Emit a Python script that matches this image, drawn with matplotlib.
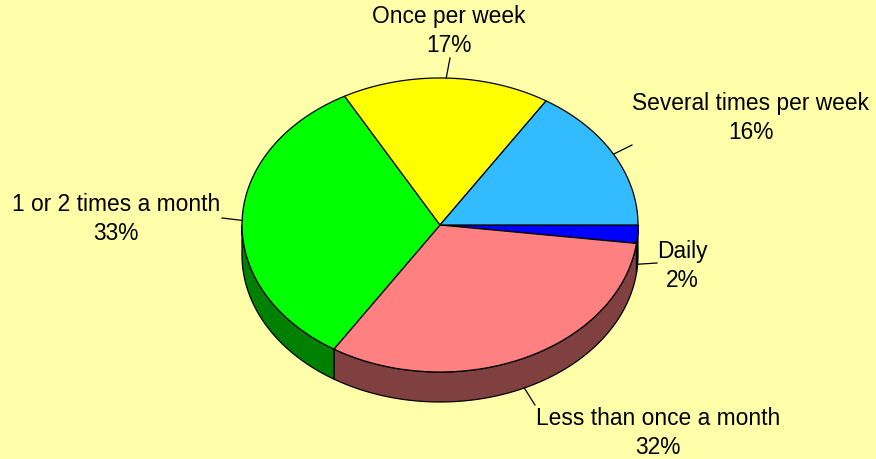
import numpy as np
import matplotlib.pyplot as plt
from matplotlib.patches import Polygon

# données du graphique (ordre horaire à partir de 0°)
categories = ["Daily", "Less than once a month", "1 or 2 times a month",
              "Once per week", "Several times per week"]
values = [2, 32, 33, 17, 16]

top_colors = ["#0000FF", "#FF8080", "#00FF00", "#FFFF00", "#33BBFF"]
side_colors = ["#000080", "#804040", "#008000", "#808000", "#1A5E80"]

# position des étiquettes (centre du texte) et fin du trait de rappel, en pixels
label_pos = [(682, 266), (658, 433), (449, 31), (751, 118)]
label_pos.insert(2, (116, 219))
leader_end = [(657, 263), (535, 405), (222, 218), (450, 58), (632, 145)]

W, H = 876, 459
cx, cy = 440, 225
rx, ry = 198, 147
depth = 30

fig = plt.figure(figsize=(W / 100, H / 100), dpi=100)
fig.patch.set_facecolor("#FFFFAA")
ax = fig.add_axes([0, 0, 1, 1])
ax.set_xlim(0, W)
ax.set_ylim(H, 0)
ax.axis("off")


def pt(theta, dz=0):
    t = np.radians(theta)
    return cx + rx * np.cos(t), cy - ry * np.sin(t) + dz


# angles des tranches (sens horaire, départ à 0°)
fracs = np.array(values, dtype=float) / np.sum(values)
ends = -360 * np.cumsum(fracs)
starts = np.concatenate([[0], ends[:-1]])

# faces latérales (moitié avant seulement)
for a0, a1, col in zip(starts, ends, side_colors):
    lo_c, hi_c = max(a1, -180), min(a0, 0)
    if lo_c >= hi_c:
        continue
    th = np.linspace(hi_c, lo_c, 60)
    top = np.array([pt(t) for t in th])
    bot = np.array([pt(t, depth) for t in th[::-1]])
    ax.add_patch(Polygon(np.vstack([top, bot]), closed=True, facecolor=col,
                         edgecolor="black", linewidth=0.9, zorder=1))

# faces du dessus
for a0, a1, col in zip(starts, ends, top_colors):
    th = np.linspace(a0, a1, 120)
    arc = np.array([pt(t) for t in th])
    poly = np.vstack([[cx, cy], arc])
    ax.add_patch(Polygon(poly, closed=True, facecolor=col,
                         edgecolor="black", linewidth=0.9, zorder=2))

# étiquettes et traits de rappel
for a0, a1, name, v, lp, le in zip(starts, ends, categories, values,
                                    label_pos, leader_end):
    mid = (a0 + a1) / 2
    dz = depth if np.sin(np.radians(mid)) < 0 else 0
    sx, sy = pt(mid, dz)
    ax.plot([sx, le[0]], [sy, le[1]], color="black", linewidth=0.9, zorder=3)
    ax.text(lp[0], lp[1], f"{name}\n{v}%", ha="center", va="center",
            multialignment="center", fontsize=16.4, family="Liberation Sans",
            linespacing=1.3, color="black", zorder=4)

fig.savefig("out.png", dpi=100, facecolor=fig.get_facecolor())
